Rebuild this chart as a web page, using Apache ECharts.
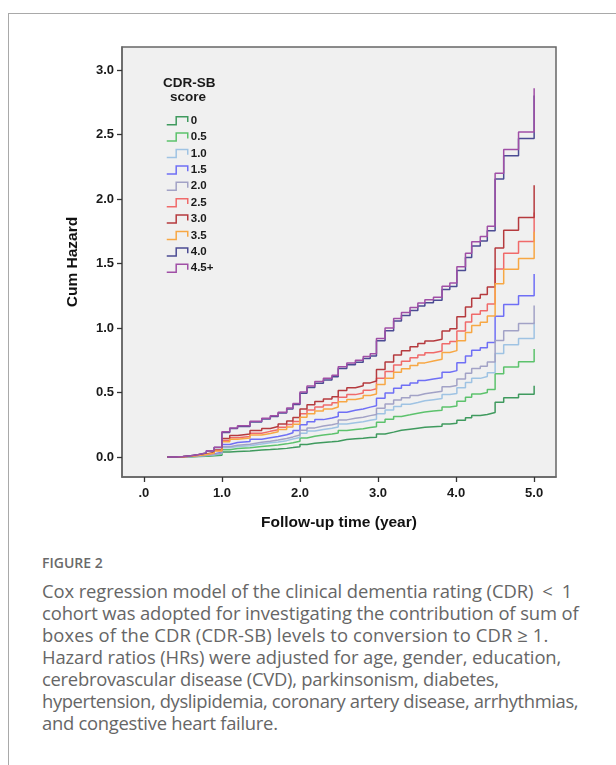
<!DOCTYPE html>
<html>
<head>
<meta charset="utf-8">
<script src="https://cdn.jsdelivr.net/npm/echarts@6/dist/echarts.min.js"></script>
<style>
html,body{margin:0;padding:0;background:#fff;}
#wrap{position:relative;width:616px;height:765px;overflow:hidden;background:#fff;}
#frame{position:absolute;left:8px;top:13px;width:700px;height:900px;border-left:1px solid #a9a9a9;border-top:1px solid #a9a9a9;}
#chart{position:absolute;left:0;top:0;width:616px;height:545px;}
#fig{position:absolute;left:42px;top:553px;font-family:'Open Sans',sans-serif;font-weight:600;font-size:14px;line-height:20px;color:#6a6a6a;}
#cap{position:absolute;left:42px;top:580px;font-family:'Open Sans',sans-serif;font-size:18.4px;line-height:22px;color:#666;white-space:nowrap;letter-spacing:-0.1px;}
#cap span{display:block;}
</style>
</head>
<body>
<div id="wrap">
<div id="frame"></div>
<div id="chart"></div>
<div id="fig">FIGURE 2</div>
<div id="cap"><span>Cox regression model of the clinical dementia rating (CDR)&ensp;&lt;&ensp;1</span><span>cohort was adopted for investigating the contribution of sum of</span><span style="letter-spacing:0.12px">boxes of the CDR (CDR-SB) levels to conversion to CDR &ge; 1.</span><span>Hazard ratios (HRs) were adjusted for age, gender, education,</span><span style="letter-spacing:-0.27px">cerebrovascular disease (CVD), parkinsonism, diabetes,</span><span style="letter-spacing:-0.38px">hypertension, dyslipidemia, coronary artery disease, arrhythmias,</span><span style="letter-spacing:-0.27px">and congestive heart failure.</span></div>
</div>
<script>
// Follow-up time (year) at each step of the cumulative hazard curves
const times = [0.30,0.40,0.50,0.60,0.70,0.80,0.90,1.00,1.10,1.20,1.36,1.51,1.62,1.72,1.83,1.91,2.00,2.09,2.19,2.30,2.41,2.49,2.60,2.71,2.81,2.90,2.98,3.09,3.20,3.30,3.41,3.51,3.60,3.71,3.82,3.92,4.01,4.12,4.20,4.31,4.40,4.50,4.61,4.80,5.00];

// Cumulative hazard per CDR-SB score group
const hz_0   = [0,0.001,0.002,0.004,0.006,0.009,0.014,0.038,0.043,0.047,0.054,0.058,0.062,0.067,0.073,0.080,0.097,0.106,0.113,0.118,0.123,0.135,0.141,0.145,0.151,0.154,0.178,0.193,0.207,0.216,0.224,0.231,0.235,0.239,0.256,0.261,0.285,0.305,0.322,0.330,0.345,0.425,0.460,0.486,0.552];
const hz_0_5 = [0,0.001,0.003,0.006,0.009,0.014,0.022,0.057,0.066,0.071,0.081,0.088,0.094,0.102,0.111,0.122,0.148,0.161,0.171,0.179,0.186,0.205,0.214,0.220,0.229,0.234,0.270,0.293,0.315,0.328,0.340,0.350,0.357,0.363,0.388,0.396,0.432,0.463,0.489,0.501,0.524,0.645,0.699,0.738,0.838];
const hz_1_0 = [0,0.001,0.004,0.007,0.012,0.018,0.027,0.071,0.082,0.088,0.101,0.110,0.117,0.127,0.139,0.151,0.184,0.201,0.214,0.223,0.232,0.256,0.266,0.274,0.285,0.292,0.336,0.365,0.392,0.409,0.423,0.436,0.445,0.453,0.484,0.493,0.538,0.577,0.610,0.624,0.653,0.803,0.871,0.920,1.044];
const hz_1_5 = [0,0.002,0.005,0.010,0.016,0.024,0.037,0.097,0.112,0.120,0.138,0.149,0.159,0.173,0.188,0.206,0.250,0.273,0.290,0.303,0.315,0.347,0.362,0.372,0.387,0.397,0.456,0.496,0.533,0.556,0.575,0.593,0.605,0.615,0.657,0.670,0.732,0.784,0.828,0.848,0.888,1.091,1.183,1.250,1.419];
const hz_2_0 = [0,0.002,0.004,0.008,0.013,0.020,0.031,0.080,0.092,0.099,0.114,0.123,0.132,0.143,0.156,0.171,0.208,0.226,0.240,0.251,0.261,0.288,0.300,0.308,0.321,0.329,0.378,0.411,0.442,0.460,0.477,0.491,0.501,0.510,0.545,0.555,0.606,0.649,0.686,0.703,0.736,0.904,0.980,1.036,1.175];
const hz_2_5 = [0,0.003,0.007,0.013,0.021,0.032,0.050,0.129,0.149,0.160,0.184,0.199,0.212,0.231,0.252,0.275,0.335,0.365,0.388,0.404,0.421,0.464,0.484,0.497,0.517,0.530,0.610,0.663,0.713,0.743,0.769,0.792,0.809,0.822,0.878,0.895,0.978,1.048,1.107,1.134,1.187,1.459,1.581,1.671,1.896];
const hz_3_0 = [0,0.003,0.007,0.015,0.024,0.035,0.055,0.144,0.166,0.178,0.205,0.221,0.236,0.256,0.280,0.306,0.372,0.405,0.431,0.450,0.468,0.516,0.538,0.553,0.575,0.590,0.678,0.737,0.792,0.825,0.855,0.881,0.899,0.914,0.977,0.995,1.087,1.164,1.231,1.260,1.319,1.621,1.758,1.857,2.108];
const hz_3_5 = [0,0.002,0.006,0.012,0.020,0.029,0.046,0.119,0.137,0.148,0.170,0.183,0.196,0.213,0.232,0.254,0.309,0.336,0.357,0.373,0.388,0.428,0.446,0.458,0.477,0.489,0.562,0.611,0.657,0.684,0.709,0.730,0.745,0.758,0.810,0.825,0.901,0.965,1.020,1.045,1.094,1.344,1.457,1.540,1.747];
const hz_4_0 = [0,0.004,0.010,0.020,0.031,0.047,0.074,0.191,0.221,0.237,0.272,0.294,0.314,0.341,0.372,0.407,0.495,0.539,0.573,0.598,0.622,0.686,0.715,0.735,0.764,0.784,0.902,0.980,1.054,1.098,1.137,1.171,1.196,1.215,1.299,1.323,1.446,1.548,1.637,1.676,1.754,2.156,2.337,2.470,2.803];
const hz_4_5 = [0,0.004,0.010,0.020,0.032,0.048,0.075,0.195,0.225,0.242,0.278,0.300,0.320,0.348,0.380,0.415,0.505,0.550,0.585,0.610,0.635,0.700,0.730,0.750,0.780,0.800,0.920,1.000,1.075,1.120,1.160,1.195,1.220,1.240,1.325,1.350,1.475,1.580,1.670,1.710,1.790,2.200,2.385,2.520,2.860];

const groupNames = ['0','0.5','1.0','1.5','2.0','2.5','3.0','3.5','4.0','4.5+'];
const groupValues = [hz_0,hz_0_5,hz_1_0,hz_1_5,hz_2_0,hz_2_5,hz_3_0,hz_3_5,hz_4_0,hz_4_5];

// Axis tick labels
const xTicks = [0,1,2,3,4,5];
const xTickLabels = ['.0','1.0','2.0','3.0','4.0','5.0'];
const yTicks = [0,0.5,1.0,1.5,2.0,2.5,3.0];
const yTickLabels = ['0.0','0.5','1.0','1.5','2.0','2.5','3.0'];

const colors = ['#3f9a5e','#5cc26c','#9fc3e3','#6f6ff5','#a2a2c6','#f06a6a','#b53a3e','#f7a744','#4b4b93','#a04fa6'];
const stepIcon = 'path://M0,10L9,10L9,1L20,1L20,7';
const axisFont = 'Liberation Sans';

const chart = echarts.init(document.getElementById('chart'), null, {renderer:'canvas'});
const series = groupNames.map((n,i)=>({
  name: n,
  type: 'line',
  step: 'end',
  symbol: 'none',
  showSymbol: false,
  animation: false,
  lineStyle: {width: 1.5, color: colors[i]},
  itemStyle: {color: colors[i]},
  data: times.map((t,k)=>[t, groupValues[i][k]])
}));

chart.setOption({
  animation: false,
  grid: {left:122, top:47, width:434, height:430, show:true, backgroundColor:'#f0f0f0', borderColor:'#666', borderWidth:1.5},
  xAxis: {
    type:'value', min:-0.28, max:5.28,
    name:'Follow-up time (year)', nameLocation:'middle', nameGap:38,
    nameTextStyle:{fontFamily:axisFont, fontWeight:'bold', fontSize:15.5, color:'#111'},
    axisLine:{show:true, onZero:false, lineStyle:{color:'#666', width:1.5}},
    axisTick:{show:true, length:5, customValues:xTicks, lineStyle:{color:'#333', width:1.3}},
    axisLabel:{customValues:xTicks, margin:10, fontFamily:axisFont, fontWeight:'bold', fontSize:13, color:'#1a1a1a',
      formatter:(v)=>xTickLabels[xTicks.indexOf(Math.round(v))]},
    splitLine:{show:false}
  },
  yAxis: {
    type:'value', min:-0.155, max:3.18,
    name:'Cum Hazard', nameLocation:'middle', nameGap:41,
    nameTextStyle:{fontFamily:axisFont, fontWeight:'bold', fontSize:15.5, color:'#111'},
    axisLine:{show:true, onZero:false, lineStyle:{color:'#666', width:1.5}},
    axisTick:{show:true, length:5, customValues:yTicks, lineStyle:{color:'#333', width:1.3}},
    axisLabel:{customValues:yTicks, margin:8, fontFamily:axisFont, fontWeight:'bold', fontSize:13, color:'#1a1a1a',
      formatter:(v)=>yTickLabels[yTicks.indexOf(Math.round(v*2)/2)]},
    splitLine:{show:false}
  },
  legend: {
    orient:'vertical', left:166, top:114.7, padding:0,
    itemWidth:21, itemHeight:8, itemGap:4.4, symbolKeepAspect:false,
    textStyle:{fontFamily:axisFont, fontWeight:'bold', fontSize:11.5, lineHeight:10, color:'#1a1a1a', padding:[0,0,0,-2]},
    data: groupNames.map((n,i)=>({name:n, icon:stepIcon, itemStyle:{color:'transparent', borderColor:colors[i], borderWidth:1.5}}))
  },
  graphic: [
    {type:'text', left:163, top:76, style:{text:'CDR-SB', font:'bold 13.5px "Liberation Sans"', fill:'#1a1a1a'}},
    {type:'text', left:170, top:90, style:{text:'score', font:'bold 13.5px "Liberation Sans"', fill:'#1a1a1a'}}
  ],
  series: series
});
</script>
</body>
</html>
